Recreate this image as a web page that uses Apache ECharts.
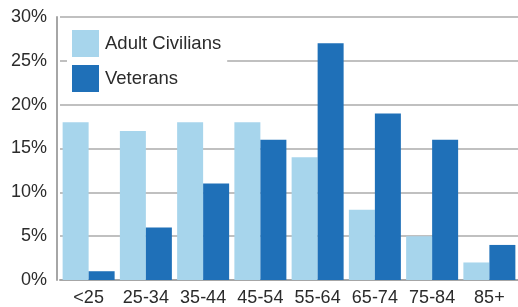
<!DOCTYPE html>
<html><head><meta charset="utf-8">
<script src="https://cdn.jsdelivr.net/npm/echarts@6/dist/echarts.min.js"></script>
<style>html,body{margin:0;padding:0;background:#fff}#c{width:518px;height:307px}</style>
</head><body><div id="c"></div>
<script>
const categories = ['<25','25-34','35-44','45-54','55-64','65-74','75-84','85+'];
const civilians = [18,17,18,18,14,8,5,2];
const veterans = [1,6,11,16,27,19,16,4];
const yTicks = [0,5,10,15,20,25,30];

const chart = echarts.init(document.getElementById('c'), null, {renderer:'canvas'});
const font = 'Liberation Sans, Arial, sans-serif';
chart.setOption({
  animation:false,
  backgroundColor:'#fff',
  grid:{left:60, top:17, width:460, height:267, containLabel:false},
  legend:{
    orient:'vertical', left:67, top:25, padding:[5,6,5,5],
    backgroundColor:'#fff', itemWidth:27, itemHeight:27, itemGap:8,
    icon:'rect',
    textStyle:{fontFamily:font, fontSize:18.5, color:'#2b2b2b', padding:[0,0,0,1]},
    data:['Adult Civilians','Veterans']
  },
  xAxis:{
    type:'category', data:categories,
    axisLine:{lineStyle:{color:'#a6a6a6', width:2}},
    axisTick:{show:false},
    axisLabel:{fontFamily:font, fontSize:18, color:'#2b2b2b', margin:9, interval:0}
  },
  yAxis:{
    type:'value', min:0, max:30, interval:5, offset:3,
    axisLine:{show:true, lineStyle:{color:'#a6a6a6', width:2}},
    axisTick:{show:false},
    splitLine:{lineStyle:{color:'#ababab', width:1.6}},
    axisLabel:{fontFamily:font, fontSize:18, color:'#2b2b2b', margin:10,
      formatter:v => yTicks.includes(v) ? v + '%' : ''}
  },
  series:[
    {name:'Adult Civilians', type:'bar', data:civilians, barWidth:26, barGap:'0%',
     itemStyle:{color:'#a7d5ec'}},
    {name:'Veterans', type:'bar', data:veterans, barWidth:26, barGap:'0%',
     itemStyle:{color:'#1f70b8'}}
  ]
});
</script></body></html>
